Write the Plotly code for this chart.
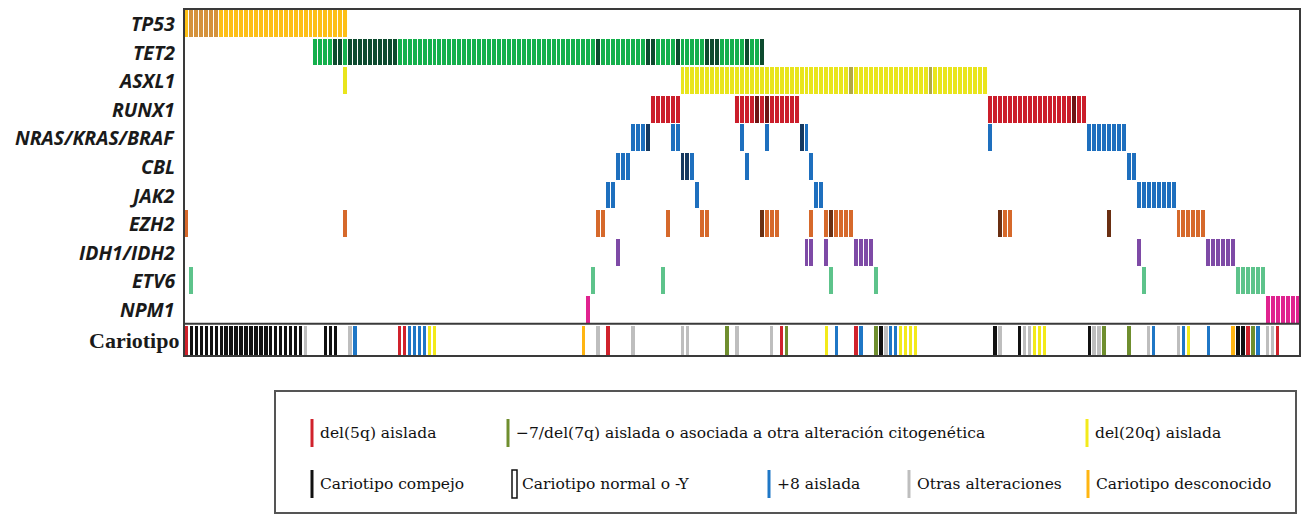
import plotly.graph_objects as go

N_PATIENTS = 225

genes = ["TP53", "TET2", "ASXL1", "RUNX1", "NRAS/KRAS/BRAF", "CBL", "JAK2",
         "EZH2", "IDH1/IDH2", "ETV6", "NPM1"]

# mutated patient columns: runs of consecutive patients (first, last)
TP53_runs = [(0, 32)]
TET2_runs = [(26, 116)]
ASXL1_runs = [(32, 32), (100, 161)]
RUNX1_runs = [(94, 99), (111, 123), (162, 181)]
RAS_runs = [(90, 93), (98, 99), (112, 112), (117, 117), (124, 125), (162, 162), (182, 189)]
CBL_runs = [(87, 89), (100, 102), (113, 113), (126, 126), (190, 191)]
JAK2_runs = [(85, 86), (103, 103), (127, 128), (192, 199)]
EZH2_runs = [(0, 0), (32, 32), (83, 84), (97, 97), (104, 105), (116, 119), (126, 126),
             (129, 134), (164, 166), (186, 186), (200, 205)]
IDH_runs = [(87, 87), (125, 126), (129, 129), (135, 138), (192, 192), (206, 211)]
ETV6_runs = [(1, 1), (82, 82), (96, 96), (130, 130), (139, 139), (193, 193), (212, 217)]
NPM1_runs = [(81, 81), (218, 224)]

# patients with more than one mutation in the gene (darker shade)
TP53_multi = [1, 2, 3, 4, 5, 6]
TET2_multi = [30, 31, 33, 34, 35, 36, 37, 38, 39, 40, 41, 42, 83, 93, 94, 99, 105, 106, 107, 113, 116]
ASXL1_multi = [134, 150]
RUNX1_multi = [115, 117, 179]
RAS_multi = [93, 124]
CBL_multi = [100, 101]
JAK2_multi = []
EZH2_multi = [116, 130, 164, 186]
IDH_multi = []
ETV6_multi = []
NPM1_multi = []

# karyotype categories (patient columns); all others = normal karyotype
kar_del5q = [0, 43, 44, 85, 120, 135, 214, 220]
kar_minus7 = [109, 121, 139, 185, 190, 215]
kar_del20q = [49, 50, 129, 144, 145, 146, 147, 171, 172, 173, 202]
kar_complex = [1, 2, 3, 4, 5, 6, 7, 8, 9, 10, 11, 12, 13, 14, 15, 16, 17, 18, 19, 20,
               21, 22, 23, 28, 29, 30, 140, 163, 168, 182, 212, 213]
kar_plus8 = [34, 45, 46, 47, 48, 131, 136, 142, 143, 195, 201, 206, 216]
kar_other = [24, 33, 83, 90, 100, 101, 111, 118, 141, 164, 169, 170, 183, 184, 194, 200, 218, 219]
kar_unknown = [80, 211]

gene_runs = [TP53_runs, TET2_runs, ASXL1_runs, RUNX1_runs, RAS_runs, CBL_runs, JAK2_runs,
             EZH2_runs, IDH_runs, ETV6_runs, NPM1_runs]
gene_multi = [TP53_multi, TET2_multi, ASXL1_multi, RUNX1_multi, RAS_multi, CBL_multi, JAK2_multi,
              EZH2_multi, IDH_multi, ETV6_multi, NPM1_multi]
gene_colors = [("#FDBF16", "#D4923C"), ("#14B04C", "#0D4A2E"), ("#E9E51C", "#B2A944"),
               ("#CB1E2B", "#6E1414"), ("#1E6FBE", "#15385F"), ("#1E6FBE", "#15385F"),
               ("#1E6FBE", "#15385F"), ("#D6692B", "#6A2F12"), ("#7E4AA6", "#5A2F7E"),
               ("#5DC38B", "#3A8F60"), ("#E0228F", "#A0105F")]

kar_cats = [(kar_del5q, "#D0222C"), (kar_minus7, "#6F8E2E"), (kar_del20q, "#F3EA1B"),
            (kar_complex, "#111111"), (kar_plus8, "#1F77C6"), (kar_other, "#BEBEBE"),
            (kar_unknown, "#FFB511")]

fig = go.Figure()

ROW_H = 0.94
for r, (runs, multi, (c_light, c_dark)) in enumerate(zip(gene_runs, gene_multi, gene_colors)):
    cols = [c for a, b in runs for c in range(a, b + 1)]
    light = [c for c in cols if c not in multi]
    dark = [c for c in cols if c in multi]
    for xs, col in ((light, c_light), (dark, c_dark)):
        if xs:
            fig.add_trace(go.Bar(x=xs, y=[ROW_H] * len(xs), base=[r] * len(xs), width=0.8,
                                 marker=dict(color=col, line=dict(width=0)),
                                 hoverinfo="skip", showlegend=False))

KAR_ROW = len(genes)
for xs, col in kar_cats:
    fig.add_trace(go.Bar(x=xs, y=[1.0] * len(xs), base=[KAR_ROW + 0.06] * len(xs), width=0.68,
                         marker=dict(color=col, line=dict(width=0)),
                         hoverinfo="skip", showlegend=False))

W, H = 1301, 515
L, R, T, B = 184, 1, 9, 159
PW, PH = W - L - R, H - T - B


def px(xp):
    return (xp - L) / PW


def py(yp):
    return (H - B - yp) / PH


shapes = []
annotations = []

# frame
shapes.append(dict(type="rect", xref="paper", yref="paper", x0=0, x1=1, y0=0, y1=1,
                   line=dict(color="#3a3a3a", width=2)))
shapes.append(dict(type="line", xref="paper", yref="y", x0=0, x1=1, y0=KAR_ROW - 0.03,
                   y1=KAR_ROW - 0.03, line=dict(color="#3a3a3a", width=2)))

# row labels
for r, g in enumerate(genes):
    annotations.append(dict(x=0, y=r + 0.47, xref="paper", yref="y", xanchor="right",
                            yanchor="middle", xshift=-7, showarrow=False,
                            text="<b><i>%s</i></b>" % g,
                            font=dict(family="Open Sans", size=19.5, color="#1a1a1a")))
annotations.append(dict(x=0, y=KAR_ROW + 0.55, xref="paper", yref="y", xanchor="right",
                        yanchor="middle", xshift=-3, showarrow=False, text="<b>Cariotipo</b>",
                        font=dict(family="Liberation Serif", size=22, color="#1a1a1a")))

# legend box
shapes.append(dict(type="rect", xref="paper", yref="paper", x0=px(275), x1=px(1296),
                   y0=py(513), y1=py(391), line=dict(color="#555555", width=2)))

legend_items = [
    (312, 433, "#D0222C", "del(5q) aislada", False),
    (508, 433, "#6F8E2E", "\u22127/del(7q) aislada o asociada a otra alteración citogenética", False),
    (1087, 433, "#F3EA1B", "del(20q) aislada", False),
    (312, 484, "#111111", "Cariotipo compejo", False),
    (514, 484, "#111111", "Cariotipo normal o -Y", True),
    (769, 484, "#1F77C6", "+8 aislada", False),
    (909, 484, "#BEBEBE", "Otras alteraciones", False),
    (1088, 484, "#FFB511", "Cariotipo desconocido", False),
]
for xm, ym, col, txt, outline in legend_items:
    if outline:
        shapes.append(dict(type="rect", xref="paper", yref="paper", x0=px(xm - 2), x1=px(xm + 3),
                           y0=py(ym + 14), y1=py(ym - 14), line=dict(color="#111111", width=1.5),
                           fillcolor="white"))
    else:
        shapes.append(dict(type="rect", xref="paper", yref="paper", x0=px(xm - 1.5), x1=px(xm + 1.5),
                           y0=py(ym + 14), y1=py(ym - 14), line=dict(width=0), fillcolor=col))
    annotations.append(dict(x=px(xm + 6), y=py(ym), xref="paper", yref="paper", xanchor="left",
                            yanchor="middle", showarrow=False, text=txt,
                            font=dict(family="DejaVu Serif", size=15.5, color="#111111")))

fig.update_layout(
    width=W, height=H,
    margin=dict(l=L, r=R, t=T, b=B, pad=0),
    paper_bgcolor="white", plot_bgcolor="white",
    barmode="overlay", bargap=0,
    xaxis=dict(range=[-0.5, N_PATIENTS - 0.5], showgrid=False, zeroline=False,
               showticklabels=False, ticks="", fixedrange=True),
    yaxis=dict(range=[KAR_ROW + 1.1, -0.035], showgrid=False, zeroline=False,
               showticklabels=False, ticks="", fixedrange=True),
    shapes=shapes, annotations=annotations,
    showlegend=False,
)

fig.write_html("out.html")
